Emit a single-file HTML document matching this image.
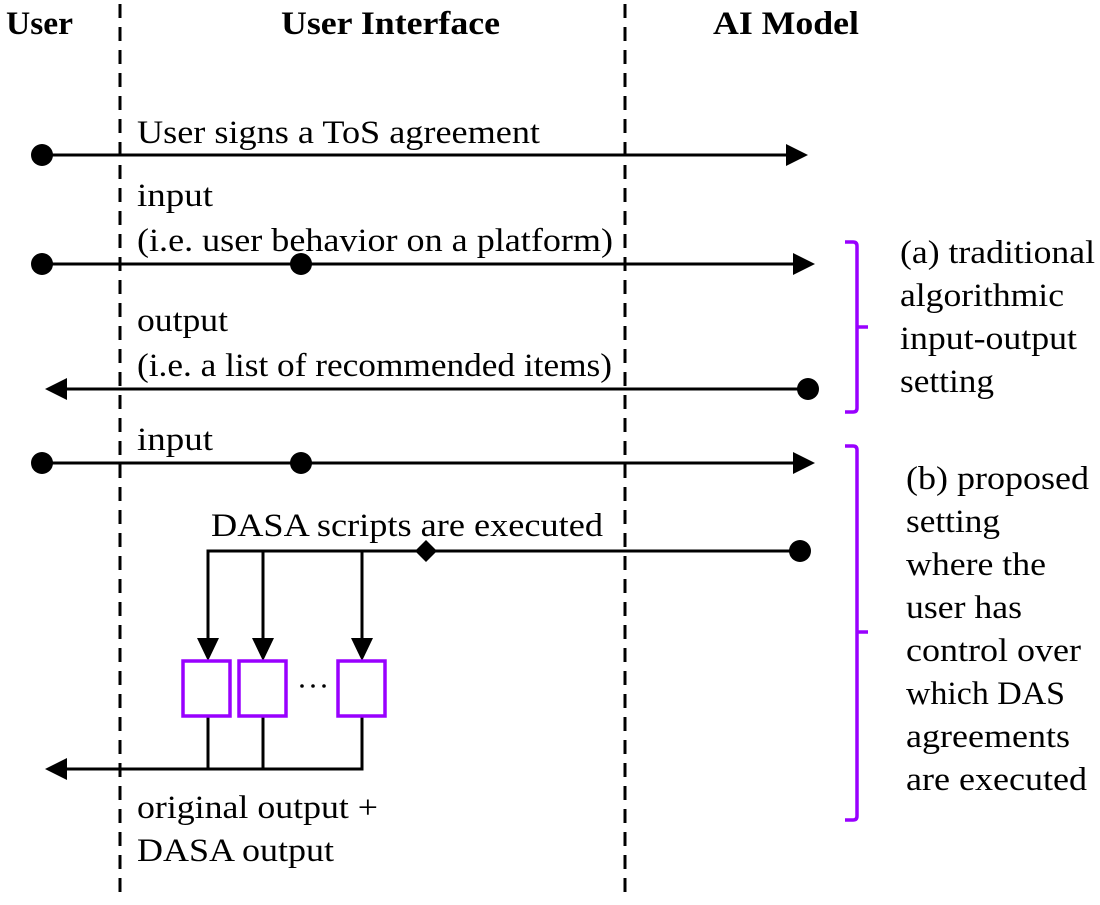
<!DOCTYPE html>
<html><head><style>body{margin:0;background:#fff}svg{display:block}text{font-family:"Liberation Serif",serif;font-size:33px;fill:#000}</style></head><body>
<svg width="1100" height="905" viewBox="0 0 1100 905">
<g stroke="#000" stroke-width="3" stroke-dasharray="14,9">
<line x1="120" y1="4" x2="120" y2="895"/><line x1="625" y1="4" x2="625" y2="895"/>
</g>
<g font-weight="bold" style="font-size:31px" lengthAdjust="spacingAndGlyphs"><text x="6" y="34" textLength="67" lengthAdjust="spacingAndGlyphs">User</text><text x="281" y="34" textLength="219" lengthAdjust="spacingAndGlyphs">User Interface</text><text x="713" y="34" textLength="146" lengthAdjust="spacingAndGlyphs">AI Model</text></g>
<g stroke="#000" stroke-width="3" fill="none">
<line x1="42" y1="155" x2="786" y2="155"/>
<line x1="42" y1="264" x2="793" y2="264"/>
<line x1="67" y1="389" x2="808" y2="389"/>
<line x1="42" y1="463" x2="793" y2="463"/>
<polyline points="800,551 208,551 208,640"/>
<line x1="263" y1="551" x2="263" y2="640"/><line x1="362" y1="551" x2="362" y2="640"/>
<polyline points="67,769 362,769 362,716"/>
<line x1="208" y1="716" x2="208" y2="769"/><line x1="263" y1="716" x2="263" y2="769"/>
</g>
<g>
<path d="M786,144L808,155L786,166z"/><path d="M793,253L815,264L793,275z"/><path d="M793,452L815,463L793,474z"/>
<path d="M67,378L45,389L67,400z"/><path d="M67,758L45,769L67,780z"/>
<path d="M197,638L208,661L219,638z"/><path d="M252,638L263,661L274,638z"/><path d="M351,638L362,661L373,638z"/>
<path d="M426,540L437,551L426,562L415,551z"/>
<circle cx="42" cy="155" r="11"/><circle cx="42" cy="264" r="11"/><circle cx="301" cy="264" r="11"/>
<circle cx="808" cy="389" r="11"/><circle cx="42" cy="463" r="11"/><circle cx="301" cy="463" r="11"/><circle cx="800" cy="551" r="11"/>
<circle cx="302" cy="686" r="1.8"/><circle cx="313" cy="686" r="1.8"/><circle cx="324" cy="686" r="1.8"/>
</g>
<g stroke="#9900ff" stroke-width="3.5" fill="none">
<rect x="183" y="661" width="47" height="55"/><rect x="239" y="661" width="47" height="55"/><rect x="338" y="661" width="47" height="55"/>
<path d="M845,242h8q4,0 4,4v162q0,4 -4,4h-8M857,327h11"/>
<path d="M845,446h8q4,0 4,4v366q0,4 -4,4h-8M857,632h11"/>
</g>
<text x="137" y="143" textLength="403" lengthAdjust="spacingAndGlyphs">User signs a ToS agreement</text>
<text x="137" y="206" textLength="76" lengthAdjust="spacingAndGlyphs">input</text>
<text x="137" y="251" textLength="476" lengthAdjust="spacingAndGlyphs">(i.e. user behavior on a platform)</text>
<text x="137" y="331" textLength="91" lengthAdjust="spacingAndGlyphs">output</text>
<text x="137" y="376" textLength="475" lengthAdjust="spacingAndGlyphs">(i.e. a list of recommended items)</text>
<text x="137" y="450" textLength="76" lengthAdjust="spacingAndGlyphs">input</text>
<text x="211" y="536" textLength="392" lengthAdjust="spacingAndGlyphs">DASA scripts are executed</text>
<text x="137" y="818" textLength="241" lengthAdjust="spacingAndGlyphs">original output +</text>
<text x="137" y="861" textLength="197" lengthAdjust="spacingAndGlyphs">DASA output</text>
<text x="900" y="263" textLength="195" lengthAdjust="spacingAndGlyphs">(a) traditional</text>
<text x="900" y="306" textLength="164" lengthAdjust="spacingAndGlyphs">algorithmic</text>
<text x="900" y="349" textLength="177" lengthAdjust="spacingAndGlyphs">input-output</text>
<text x="900" y="392" textLength="94" lengthAdjust="spacingAndGlyphs">setting</text>
<text x="906" y="489" textLength="183" lengthAdjust="spacingAndGlyphs">(b) proposed</text>
<text x="906" y="532" textLength="94" lengthAdjust="spacingAndGlyphs">setting</text>
<text x="906" y="575" textLength="140" lengthAdjust="spacingAndGlyphs">where the</text>
<text x="906" y="618" textLength="116" lengthAdjust="spacingAndGlyphs">user has</text>
<text x="906" y="661" textLength="175" lengthAdjust="spacingAndGlyphs">control over</text>
<text x="906" y="704" textLength="159" lengthAdjust="spacingAndGlyphs">which DAS</text>
<text x="906" y="747" textLength="164" lengthAdjust="spacingAndGlyphs">agreements</text>
<text x="906" y="790" textLength="181" lengthAdjust="spacingAndGlyphs">are executed</text>
</svg>
</body></html>
